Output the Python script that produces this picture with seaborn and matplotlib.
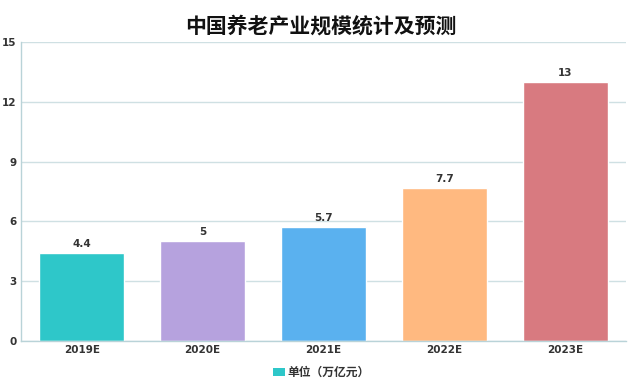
import pandas as pd
import seaborn as sns
import matplotlib.pyplot as plt
from matplotlib.patches import Patch

years = ["2019E", "2020E", "2021E", "2022E", "2023E"]
values = [4.4, 5, 5.7, 7.7, 13]
labels = ["4.4", "5", "5.7", "7.7", "13"]
colors = ["#2ec7c9", "#b6a2de", "#5ab1ef", "#ffb980", "#d87a80"]
y_ticks = [0, 3, 6, 9, 12, 15]

sns.set_theme(style="white")
plt.rcParams['font.family'] = ['Noto Sans CJK SC', 'DejaVu Sans']

df = pd.DataFrame({"year": years, "value": values})

fig = plt.figure(figsize=(6.42, 3.86), dpi=100)
ax = fig.add_axes([0.033, 0.1166, 0.942, 0.7744])

sns.barplot(data=df, x="year", y="value", hue="year", palette=colors,
            width=0.7, legend=False, saturation=1, ax=ax)

for p, txt in zip(ax.patches, labels):
    ax.text(p.get_x() + p.get_width() / 2, p.get_height() + 0.2, txt,
            ha="center", va="bottom", fontsize=7.5, color="#333333",
            fontweight="bold", family="DejaVu Sans")

grid_c = "#b9d3d8"
ax.set_ylim(0, 15)
ax.set_xlim(-0.5, 4.5)
ax.set_yticks(y_ticks)
ax.yaxis.grid(True, color="#cfe0e3", linewidth=1)
ax.set_axisbelow(True)
for s in ["top", "right"]:
    ax.spines[s].set_visible(False)
for s in ["left", "bottom"]:
    ax.spines[s].set_color(grid_c)
    ax.spines[s].set_linewidth(1)

ax.tick_params(axis="y", length=2.5, color=grid_c, labelsize=7.5, labelcolor="#333333", pad=1)
ax.tick_params(axis="x", which="major", length=0, labelsize=7.5, labelcolor="#333333", pad=3)
ax.set_xticks([i - 0.5 for i in range(6)], minor=True)
ax.tick_params(axis="x", which="minor", length=3, color=grid_c)
for t in ax.get_xticklabels() + ax.get_yticklabels():
    t.set_fontweight("bold")
    t.set_family("DejaVu Sans")
ax.set_xlabel("")
ax.set_ylabel("")

fig.suptitle("中国养老产业规模统计及预测", x=0.5, y=0.96, fontsize=15, fontweight="heavy", color="#111111")

handles = [Patch(facecolor=colors[0], edgecolor="none", label="单位（万亿元）")]
fig.legend(handles=handles, loc="center", bbox_to_anchor=(0.5, 0.035), frameon=False,
           fontsize=8.5, handlelength=1.0, handleheight=0.7, handletextpad=0.2)
for t in fig.legends[0].get_texts():
    t.set_fontweight("bold")
    t.set_color("#333333")

fig.savefig("out.png", dpi=100)
